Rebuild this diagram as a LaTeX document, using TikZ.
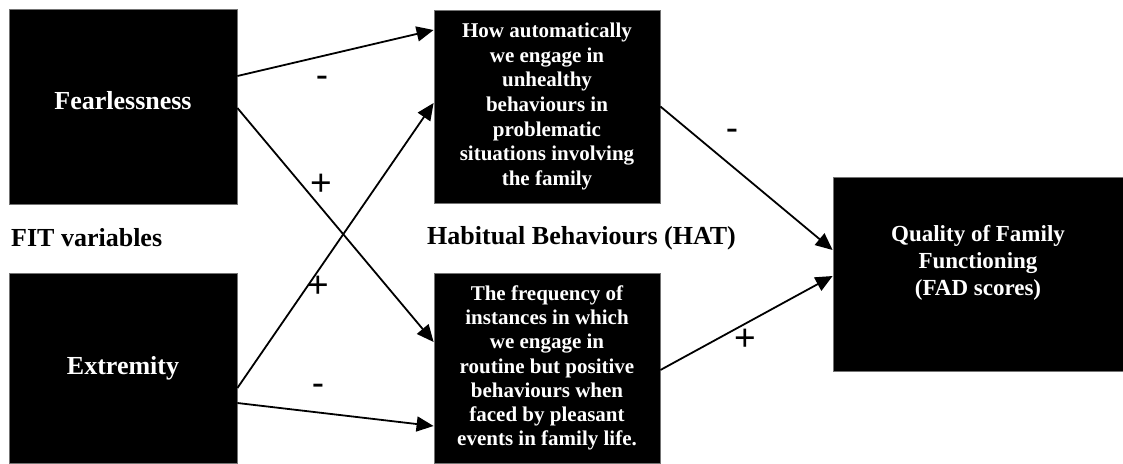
\documentclass[tikz,border=0pt]{standalone}
\usepackage{fontspec}
\setmainfont{Liberation Serif}
\newfontfamily\signfont{Liberation Sans}
\usetikzlibrary{arrows.meta}

\tikzset{
  blackbox/.style={fill=black,draw=black!55,line width=0.8pt,text=white,
    font=\bfseries,align=center,inner sep=0pt},
  link/.style={->,line width=1.8pt},
  sign/.style={font=\signfont\fontsize{37}{37}\selectfont,inner sep=0pt},
  grouplabel/.style={font=\bfseries\fontsize{26}{28}\selectfont,inner sep=0pt}
}

\begin{document}
\begin{tikzpicture}[x=1pt,y=-1pt,>={Triangle[length=17pt,width=15pt]}]
  \useasboundingbox (0,0) rectangle (1123,463);
  % FIT variables (left column)
  \node[blackbox,minimum width=228pt,minimum height=195pt] (fear) at (123,106.5) {};
  \node[text=white,font=\bfseries\fontsize{26}{28}\selectfont,inner sep=0pt]
    (feartext) at ([yshift=6pt]fear.center) {Fearlessness};
  \node[blackbox,minimum width=228pt,minimum height=190pt,
        font=\bfseries\fontsize{26}{28}\selectfont] (extr) at (123,368) {Extremity};
  \node[grouplabel,anchor=west] (fitlabel) at (11,238) {FIT variables};
  % habitual behaviours (middle column)
  \node[blackbox,minimum width=226pt,minimum height=193pt,
        font=\bfseries\fontsize{21}{24.7}\selectfont] (habA) at (547,106.5)
    {How automatically\\we engage in\\unhealthy\\behaviours in\\problematic\\situations involving\\the family};
  \node[blackbox,minimum width=226pt,minimum height=190pt,
        font=\bfseries\fontsize{21}{24.2}\selectfont] (habB) at (547,368)
    {The frequency of\\instances in which\\we engage in\\routine but positive\\behaviours when\\faced by pleasant\\events in family life.};
  \node[grouplabel,anchor=west] (hatlabel) at (427,238) {Habitual Behaviours (HAT)};
  % family functioning (right)
  \node[blackbox,minimum width=290pt,minimum height=194pt] (qual) at (978,274) {};
  \node[text=white,font=\bfseries\fontsize{23}{27}\selectfont,align=center,inner sep=0pt]
    (qualtext) at ([yshift=11pt]qual.center) {Quality of Family\\Functioning\\(FAD scores)};
  % paths
  \draw[link] ([yshift=30.5pt]fear.east) -- ([yshift=76.5pt]habA.west);
  \draw[link] ([yshift=-1.5pt]fear.east) -- ([yshift=26pt]habB.west);
  \draw[link] ([yshift=-20pt]extr.east) -- ([yshift=3.5pt]habA.west);
  \draw[link] ([yshift=-35pt]extr.east) -- ([yshift=-58pt]habB.west);
  \draw[link] (habA.east) -- ([yshift=24pt]qual.west);
  \draw[link] ([yshift=-2pt]habB.east) -- ([yshift=-2pt]qual.west);
  % signs
  \node[sign] (sgnA) at (322,82) {-};
  \node[sign] (sgnB) at (321,185) {+};
  \node[sign] (sgnC) at (318,287) {+};
  \node[sign] (sgnD) at (318,390) {-};
  \node[sign] (sgnE) at (732,135) {-};
  \node[sign] (sgnF) at (745,340) {+};
\end{tikzpicture}
\end{document}
